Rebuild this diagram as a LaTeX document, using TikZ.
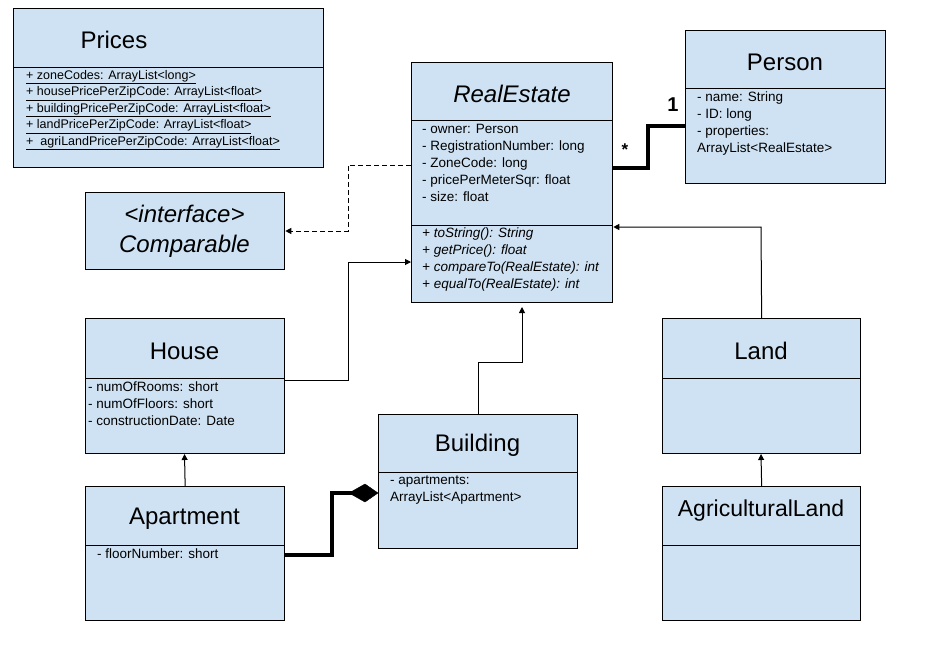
\documentclass[tikz,border=0pt]{standalone}
\usepackage{fontspec}
\setmainfont{Liberation Sans}
\usetikzlibrary{arrows.meta}
\definecolor{boxfill}{HTML}{CFE2F3}
\newcommand\myul[1]{\underline{#1\vphantom{gy}}}
\begin{document}
\begin{tikzpicture}[x=1pt,y=-1pt,
  box/.style={draw,fill=boxfill,line width=1.3pt},
  ttl/.style={font=\fontsize{24}{26}\selectfont},
  att/.style={font=\fontsize{13.5}{17}\selectfont,align=left,anchor=north west,inner sep=0pt},
  conn/.style={line width=1pt,-{Triangle[length=6pt,width=6pt]}},
  thick conn/.style={line width=4pt}]
\useasboundingbox (0,0) rectangle (931,657);
% Prices
\node[box,minimum width=310pt,minimum height=159pt,anchor=north west] (prices) at (13,8) {};
\draw[line width=1pt] (13,67) -- (323,67);
\node[ttl] (pricesT) at (114,40) {Prices};
\node[att,font=\fontsize{12.5}{16.5}\selectfont] (pricesA) at (26,70) {\myul{+ zoneCodes: ArrayList<long>}\\\myul{+ housePricePerZipCode: ArrayList<float>}\\\myul{+ buildingPricePerZipCode: ArrayList<float>}\\\myul{+ landPricePerZipCode: ArrayList<float>}\\\myul{+\ \ agriLandPricePerZipCode: ArrayList<float>}};
% Comparable
\node[box,minimum width=199pt,minimum height=77pt,anchor=north west] (comp) at (85,192) {};
\node[ttl,align=center,font=\itshape\fontsize{24}{30}\selectfont] (compT) at (184.5,231) {<interface>\\Comparable};
% RealEstate
\node[box,minimum width=201pt,minimum height=240pt,anchor=north west] (re) at (411,62) {};
\draw[line width=1pt] (411,120) -- (612,120);
\draw[line width=1pt] (411,225) -- (612,225);
\node[ttl,font=\itshape\fontsize{24}{26}\selectfont] (reT) at (512,94) {RealEstate};
\node[att] (reA) at (422,124) {- owner: Person\\- RegistrationNumber: long\\- ZoneCode: long\\- pricePerMeterSqr: float\\- size: float};
\node[att,font=\itshape\fontsize{13.5}{17}\selectfont] (reM) at (422,228) {+ toString(): String\\+ getPrice(): float\\+ compareTo(RealEstate): int\\+ equalTo(RealEstate): int};
% Person
\node[box,minimum width=200pt,minimum height=153pt,anchor=north west] (person) at (685,30) {};
\draw[line width=1pt] (685,88) -- (885,88);
\node[ttl] (personT) at (785,62) {Person};
\node[att] (personA) at (697,92) {- name: String\\- ID: long\\- properties:\\ArrayList<RealEstate>};
% House
\node[box,minimum width=199pt,minimum height=135pt,anchor=north west] (house) at (85,318) {};
\draw[line width=1pt] (85,378) -- (284,378);
\node[ttl] (houseT) at (184.5,351) {House};
\node[att] (houseA) at (88,382) {- numOfRooms: short\\- numOfFloors: short\\- constructionDate: Date};
% Apartment
\node[box,minimum width=199pt,minimum height=134pt,anchor=north west] (apt) at (85,486) {};
\draw[line width=1pt] (85,545) -- (284,545);
\node[ttl] (aptT) at (184.5,519) {Apartment};
\node[att] (aptA) at (97,549) {- floorNumber: short};
% Building
\node[box,minimum width=199pt,minimum height=134pt,anchor=north west] (bld) at (378,414) {};
\draw[line width=1pt] (378,472) -- (577,472);
\node[ttl] (bldT) at (477.5,445) {Building};
\node[att] (bldA) at (390,476) {- apartments:\\ArrayList<Apartment>};
% Land
\node[box,minimum width=198pt,minimum height=135pt,anchor=north west] (land) at (662,318) {};
\draw[line width=1pt] (662,378) -- (860,378);
\node[ttl] (landT) at (761,351) {Land};
% AgriculturalLand
\node[box,minimum width=198pt,minimum height=134pt,anchor=north west] (agri) at (662,486) {};
\draw[line width=1pt] (662,545) -- (860,545);
\node[ttl,font=\fontsize{23}{25}\selectfont] (agriT) at (761,511) {AgriculturalLand};
% connectors
\draw[conn,dash pattern=on 5pt off 3pt] (re.north west |- 0,165) -- (348,165) -- (348,231) -- (comp.east |- 0,231);
\draw[conn] (house.north east |- 0,380) -- (348,380) -- (348,262) -- (re.north west |- 0,262);
\draw[conn] (bld.north -| 478,0) -- (478,362) -- (522,362) -- (522,307);
\draw[conn] (land.north) -- (761,227) -- (re.north east |- 0,227);
\draw[conn] (apt.north) -- (184.5,454);
\draw[conn] (agri.north) -- (761,454);
\draw[thick conn] (apt.north east |- 0,555) -- (332,555) -- (332,493) -- (352,493);
\draw[fill=black] (378,493) -- (365,484) -- (349,493) -- (365,502) -- cycle;
\draw[thick conn] (re.north east |- 0,168) -- (648,168) -- (648,126) -- (person.north west |- 0,126);
\node[font=\bfseries\fontsize{17}{18}\selectfont] (star) at (625,150) {*};
\node[font=\bfseries\fontsize{20}{21}\selectfont] (one) at (673,105) {1};
\end{tikzpicture}
\end{document}
